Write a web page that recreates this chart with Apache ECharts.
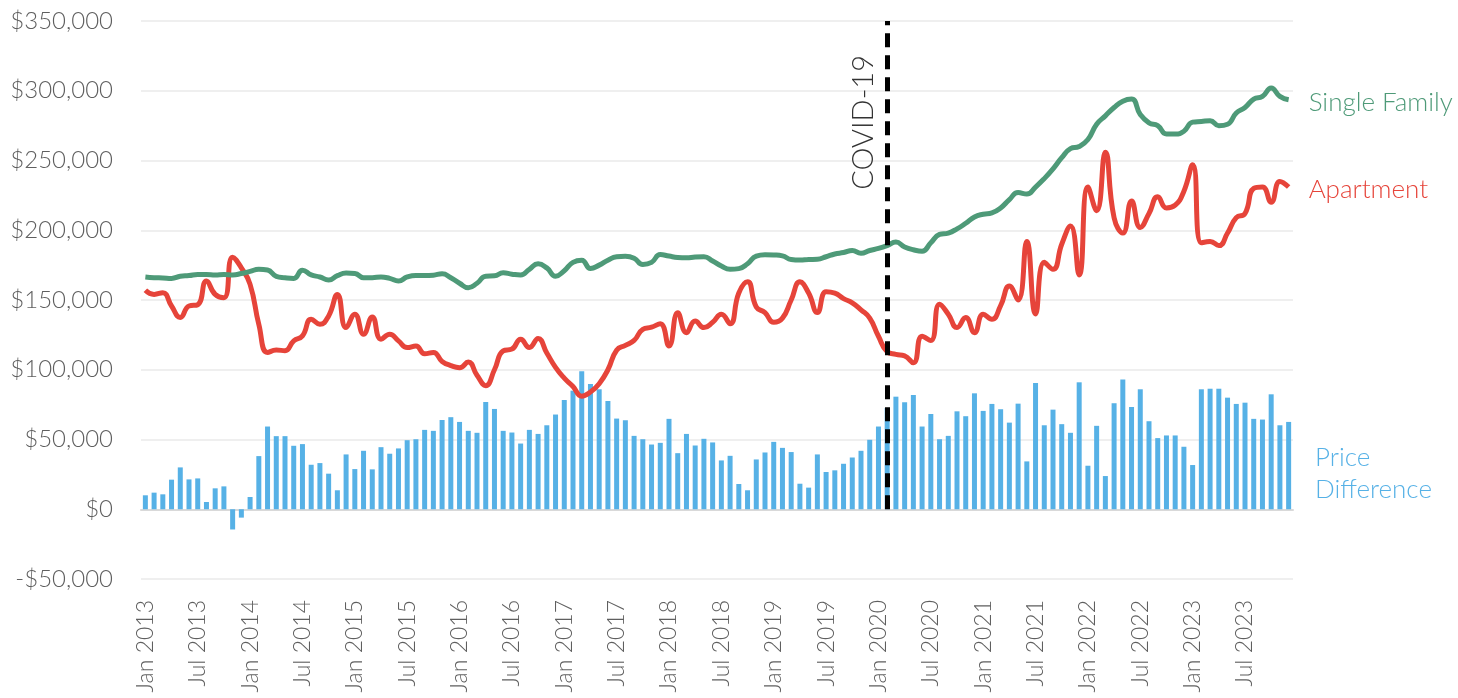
<!DOCTYPE html>
<html>
<head>
<meta charset="utf-8">
<script src="https://cdn.jsdelivr.net/npm/echarts@6/dist/echarts.min.js"></script>
<style>
  html, body { margin: 0; padding: 0; background: #fff; }
  #chart { width: 1458px; height: 698px; }
</style>
</head>
<body>
<div id="chart"></div>
<script>
var monthNames = ['Jan', 'Feb', 'Mar', 'Apr', 'May', 'Jun', 'Jul', 'Aug', 'Sep', 'Oct', 'Nov', 'Dec'];
var years = [2013, 2014, 2015, 2016, 2017, 2018, 2019, 2020, 2021, 2022, 2023];

var categories = [];
years.forEach(function (y) {
	monthNames.forEach(function (m) {
		categories.push(m + ' ' + y);
	});
});

// one row per year, Jan..Dec
var singleFamily = [
	166500, 166000, 165800, 165500, 167000, 167500, 168300, 168300, 168000, 168300, 168000, 169000,
	170500, 172000, 171500, 167000, 166000, 165500, 171400, 168000, 166500, 164300, 167500, 169300,
	169000, 166000, 166000, 166500, 165500, 163600, 166500, 167600, 167500, 167800, 168800, 166000,
	162000, 158800, 162000, 167100, 167300, 169500, 168500, 167900, 172000, 175900, 173000, 167100,
	171000, 177000, 178500, 172600, 175000, 178500, 181000, 181400, 180000, 175500, 177000, 182600,
	181500, 180500, 180200, 180800, 181000, 178000, 174300, 172000, 172500, 176000, 181500, 182500,
	182300, 181600, 179000, 178600, 179000, 179200, 181000, 183000, 184000, 185500, 183500, 185500,
	187000, 189000, 191500, 188000, 186000, 185000, 191000, 197000, 198000, 201000, 205000, 209500,
	211500, 212500, 216000, 222000, 227000, 226000, 231000, 237000, 244000, 252000, 258500, 260000,
	265000, 276000, 282000, 288000, 292500, 294000, 283000, 277000, 275000, 269000, 269000, 271000,
	277500, 278000, 278500, 275000, 276000, 284000, 288000, 294000, 296000, 302000, 296000, 293500
];

var apartment = [
	157000, 154000, 155200, 145700, 137400, 145700, 146600, 163600, 154000, 151700, 180700, 173100,
	161200, 132600, 112400, 114100, 113700, 120700, 124300, 136200, 132600, 138600, 154000, 130200,
	139800, 125500, 137900, 121900, 125500, 120700, 115900, 117000, 111500, 112400, 106000, 103000,
	101500, 105500, 96000, 88600, 100000, 113600, 114800, 121900, 115900, 122400, 112000, 101700,
	94000, 88000, 81000, 84000, 90000, 100000, 114000, 117500, 121000, 129000, 130500, 133000,
	117100, 140900, 126600, 135000, 130200, 134000, 139800, 133000, 155000, 163000, 145000, 141000,
	134000, 137000, 150000, 163000, 155000, 141000, 156000, 155000, 151000, 148000, 143000, 137000,
	124000, 113000, 111000, 110000, 105000, 124000, 121000, 147000, 139800, 130200, 137400, 126600,
	139800, 136200, 146000, 160000, 150000, 192000, 140000, 177000, 172000, 190000, 203000, 168000,
	231000, 214000, 256000, 209000, 198000, 221000, 202000, 212000, 224000, 216000, 218000, 228000,
	247000, 191000, 192000, 189000, 198000, 209000, 212000, 230000, 231000, 220000, 235000, 231000
];

var priceDifference = [
	10000, 11900, 10700, 21200, 30000, 21400, 22100, 5200, 15000, 16400, -14500, -6000,
	8800, 38100, 59300, 52400, 52400, 45500, 46700, 31900, 33100, 25500, 13600, 39300,
	28800, 41900, 28600, 44500, 39800, 43600, 49500, 50200, 56900, 56200, 64000, 66000,
	62600, 56200, 54800, 76900, 71900, 56200, 55000, 47100, 56900, 54000, 60200, 67900,
	78300, 85000, 99000, 89800, 86000, 77600, 65000, 63800, 52600, 50200, 46400, 47600,
	64800, 40200, 54000, 45700, 50500, 47900, 35000, 38300, 18100, 13600, 35700, 40700,
	48300, 44000, 41000, 18300, 15500, 39300, 26700, 27900, 32600, 37100, 41900, 49800,
	59300, 72600, 80700, 76700, 81900, 59300, 68300, 50200, 52600, 70200, 66700, 83100,
	70500, 75500, 71700, 62100, 75700, 34300, 90500, 60200, 71400, 61000, 54800, 91000,
	31200, 59800, 23800, 76000, 93100, 73300, 86000, 63100, 51000, 52900, 52900, 44800,
	31700, 86000, 86400, 86400, 80000, 75500, 76400, 64800, 64300, 82400, 60200, 62600
];

var yTicks = [-50000, 350000, 50000]; // min, max, step
var covidMonth = 'Feb 2020';

var green = '#4e9a78';
var red = '#e6443a';
var blue = '#56b1e6';
var grey = '#5f5f5f';

var dom = document.getElementById('chart');
var myChart = echarts.init(dom);

function money(v) {
	return (v < 0 ? '-$' : '$') + Math.abs(v).toLocaleString('en-US');
}

var option = {
	animation: false,
	textStyle: { fontFamily: 'Lato', fontWeight: 300 },
	grid: {
		left: 141,
		right: 165,
		top: 21,
		bottom: 119,
		outerBoundsMode: 'none'
	},
	xAxis: {
		type: 'category',
		data: categories,
		axisLine: { lineStyle: { color: '#d9d9d9', width: 2 } },
		axisTick: {
			interval: 5,
			length: 9,
			lineStyle: { color: '#d9d9d9', width: 2 }
		},
		axisLabel: {
			interval: 5,
			rotate: 90,
			margin: 21,
			fontSize: 23,
			fontWeight: 300,
			color: grey
		},
		splitLine: { show: false }
	},
	yAxis: {
		type: 'value',
		min: yTicks[0],
		max: yTicks[1],
		interval: yTicks[2],
		axisLine: { show: false },
		axisTick: { show: false },
		axisLabel: {
			margin: 28,
			fontSize: 24,
			fontWeight: 300,
			color: grey,
			formatter: money
		},
		splitLine: { lineStyle: { color: '#efefef', width: 2 } }
	},
	graphic: [{
		type: 'text',
		left: 1315,
		top: 442,
		style: {
			text: 'Price\nDifference',
			fill: blue,
			font: '300 26px Lato',
			lineHeight: 32
		}
	}],
	series: [
		{
			name: 'Price Difference',
			type: 'bar',
			barWidth: 5,
			itemStyle: { color: blue },
			data: priceDifference
		},
		{
			name: 'Apartment',
			type: 'line',
			smooth: true,
			symbol: 'none',
			lineStyle: { color: red, width: 5 },
			itemStyle: { color: red },
			endLabel: {
				show: true,
				formatter: '{a}',
				color: red,
				fontSize: 26,
				fontWeight: 300,
				distance: 20,
				offset: [0, 3]
			},
			data: apartment
		},
		{
			name: 'Single Family',
			type: 'line',
			smooth: true,
			symbol: 'none',
			lineStyle: { color: green, width: 5 },
			itemStyle: { color: green },
			endLabel: {
				show: true,
				formatter: '{a}',
				color: green,
				fontSize: 26,
				fontWeight: 300,
				distance: 20,
				offset: [0, 3]
			},
			markLine: {
				silent: true,
				symbol: ['none', 'none'],
				lineStyle: { color: '#000', type: [14, 8], width: 5 },
				label: {
					show: true,
					formatter: 'COVID-19',
					position: 'insideEndTop',
					fontSize: 29,
					fontWeight: 300,
					color: '#333',
					distance: [34, 9]
				},
				data: [[{ coord: [covidMonth, 0] }, { coord: [covidMonth, yTicks[1]] }]]
			},
			data: singleFamily
		}
	]
};

if (option && typeof option === "object") {
	myChart.setOption(option, true);
}
</script>
</body>
</html>
